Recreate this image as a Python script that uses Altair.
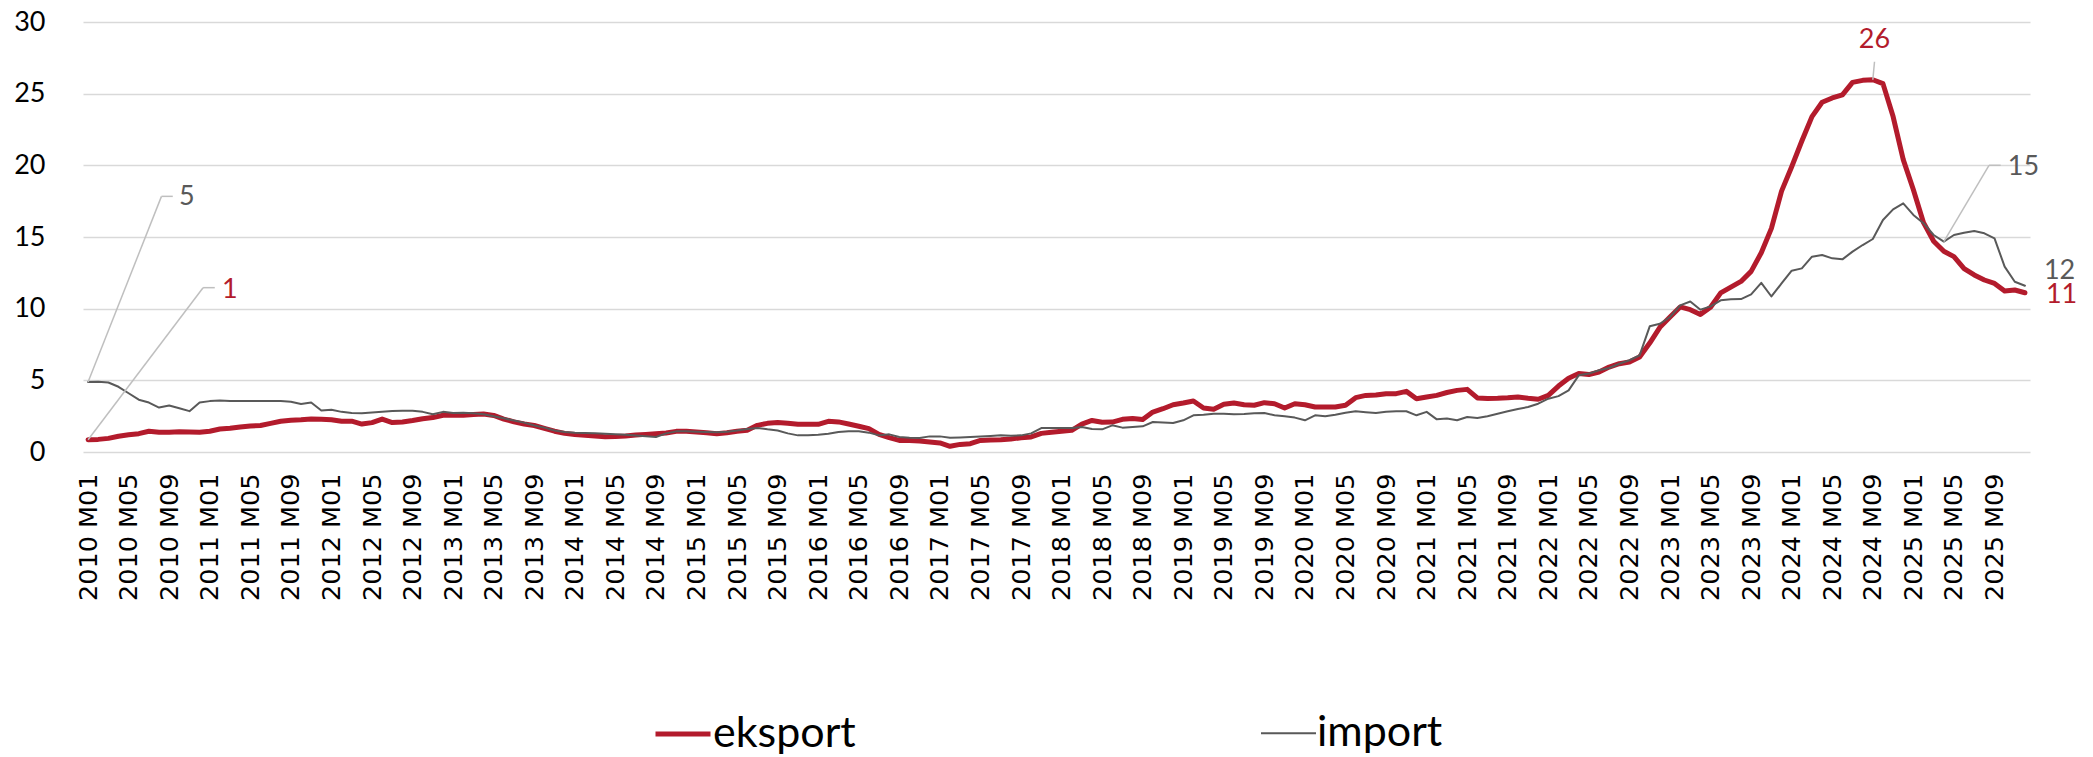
import altair as alt
import pandas as pd

months = [f"{2010 + i // 12} M{i % 12 + 1:02d}" for i in range(192)]

eksport = [
    0.86, 0.88, 0.95, 1.10, 1.20, 1.28, 1.45, 1.38, 1.38, 1.42, 1.40, 1.38,
    1.45, 1.60, 1.65, 1.75, 1.82, 1.85, 2.00, 2.15, 2.22, 2.25, 2.30, 2.28,
    2.25, 2.15, 2.15, 1.95, 2.05, 2.30, 2.05, 2.10, 2.20, 2.32, 2.40, 2.56,
    2.56, 2.56, 2.62, 2.65, 2.55, 2.30, 2.10, 1.95, 1.85, 1.65, 1.45, 1.30,
    1.22, 1.17, 1.12, 1.06, 1.08, 1.12, 1.18, 1.23, 1.28, 1.33, 1.44, 1.44,
    1.40, 1.35, 1.28, 1.35, 1.45, 1.52, 1.86, 2.00, 2.05, 2.00, 1.93, 1.93,
    1.93, 2.14, 2.10, 1.95, 1.80, 1.63, 1.23, 1.00, 0.81, 0.80, 0.77, 0.70,
    0.63, 0.40, 0.53, 0.58, 0.81, 0.84, 0.86, 0.90, 1.00, 1.05, 1.30, 1.38,
    1.45, 1.51, 1.95, 2.20, 2.07, 2.09, 2.28, 2.33, 2.26, 2.79, 3.02, 3.30,
    3.42, 3.56, 3.07, 2.98, 3.33, 3.42, 3.30, 3.26, 3.44, 3.37, 3.07, 3.37,
    3.30, 3.14, 3.14, 3.14, 3.26, 3.79, 3.95, 3.97, 4.07, 4.07, 4.23, 3.72,
    3.84, 3.95, 4.15, 4.30, 4.37, 3.77, 3.74, 3.75, 3.78, 3.84, 3.75, 3.68,
    3.95, 4.60, 5.15, 5.47, 5.40, 5.58, 5.93, 6.16, 6.28, 6.63, 7.60, 8.70,
    9.42, 10.12, 9.93, 9.60, 10.10, 11.10, 11.50, 11.90, 12.60, 13.90, 15.60, 18.20,
    19.90, 21.70, 23.40, 24.40, 24.70, 24.92, 25.79, 25.93, 25.97, 25.70, 23.40, 20.40,
    18.30, 16.00, 14.70, 14.00, 13.63, 12.80, 12.35, 12.00, 11.76, 11.23, 11.30, 11.11,
]

importv = [
    4.88, 4.90, 4.85, 4.55, 4.10, 3.65, 3.45, 3.10, 3.25, 3.05, 2.85, 3.45,
    3.55, 3.60, 3.55, 3.55, 3.55, 3.55, 3.55, 3.55, 3.50, 3.35, 3.45, 2.90,
    2.95, 2.80, 2.72, 2.70, 2.75, 2.80, 2.86, 2.88, 2.88, 2.80, 2.63, 2.80,
    2.72, 2.74, 2.70, 2.63, 2.50, 2.35, 2.20, 2.05, 1.85, 1.70, 1.50, 1.40,
    1.35, 1.33, 1.30, 1.27, 1.24, 1.20, 1.15, 1.10, 1.05, 1.30, 1.44, 1.44,
    1.42, 1.40, 1.38, 1.42, 1.50, 1.60, 1.68, 1.58, 1.50, 1.30, 1.16, 1.16,
    1.20, 1.28, 1.40, 1.45, 1.45, 1.35, 1.16, 1.23, 1.05, 1.00, 0.98, 1.09,
    1.09, 1.00, 1.02, 1.05, 1.08, 1.12, 1.16, 1.14, 1.16, 1.30, 1.67, 1.67,
    1.67, 1.68, 1.74, 1.60, 1.58, 1.86, 1.70, 1.75, 1.79, 2.09, 2.05, 2.02,
    2.21, 2.56, 2.60, 2.67, 2.66, 2.63, 2.65, 2.70, 2.72, 2.56, 2.50, 2.40,
    2.21, 2.56, 2.49, 2.60, 2.74, 2.84, 2.78, 2.72, 2.80, 2.84, 2.84, 2.56,
    2.80, 2.28, 2.33, 2.21, 2.44, 2.37, 2.50, 2.67, 2.84, 3.00, 3.14, 3.37,
    3.72, 3.90, 4.30, 5.35, 5.47, 5.70, 5.86, 6.16, 6.40, 6.74, 8.77, 8.95,
    9.42, 10.23, 10.50, 9.93, 10.16, 10.58, 10.65, 10.67, 11.00, 11.80, 10.85, 11.76,
    12.65, 12.81, 13.63, 13.74, 13.51, 13.44, 13.98, 14.44, 14.86, 16.19, 16.93, 17.35,
    16.54, 15.96, 15.14, 14.68, 15.14, 15.30, 15.42, 15.26, 14.91, 12.93, 11.88, 11.60,
]

series_names = ["eksport", "import"]
y_ticks = [0, 5, 10, 15, 20, 25, 30]
x_tick_labels = months[::4]

RED = "#B31B2C"
GRAY = "#595959"
LEADER = "#BFBFBF"

df = pd.DataFrame({
    "month": months + months,
    "value": eksport + importv,
    "series": ["eksport"] * len(months) + ["import"] * len(months),
})

xscale = alt.Scale(type="point", domain=months, padding=0.5)
xaxis = alt.Axis(values=x_tick_labels, labelAngle=270, title=None, domain=False,
                 ticks=False, grid=False, labelFont="DejaVu Sans", labelFontSize=25.5,
                 labelColor="black", labelPadding=21, labelOverlap=False)
yscale = alt.Scale(domain=[0, 30], nice=False, zero=True)
yaxis = alt.Axis(values=y_ticks, title=None, domain=False, ticks=False, tickSize=0,
                 grid=True, gridColor="#D9D9D9", gridWidth=1.6, labelFont="Lato",
                 labelFontSize=27, labelColor="black", labelPadding=38)

X = alt.X("month:O", scale=xscale, axis=xaxis)
Y = alt.Y("value:Q", scale=yscale, axis=yaxis)

legend_kw = dict(orient="none", legendX=570, legendY=682, direction="horizontal",
                 title=None, symbolType="stroke", symbolSize=3025,
                 labelFont="Lato", labelFontSize=43, labelColor="black",
                 labelOffset=0, columnPadding=401)

lines = alt.Chart(df).mark_line(strokeJoin="round", strokeCap="round").encode(
    x=X, y=Y,
    color=alt.Color("series:N", scale=alt.Scale(domain=series_names, range=[RED, GRAY]),
                    legend=alt.Legend(**legend_kw)),
    strokeWidth=alt.StrokeWidth("series:N", scale=alt.Scale(domain=series_names, range=[5, 2]),
                                legend=alt.Legend(**legend_kw)),
)


def point_df(values, idx):
    v = values[idx]
    return pd.DataFrame({"month": [months[idx]], "value": [v], "label": [str(int(round(v)))]})


def annotation(values, idx, color, dx, dy, align="left", leader=None):
    d = point_df(values, idx)
    layers = []
    if leader is not None:
        lx, ly, hx = leader
        layers.append(alt.Chart(d).mark_rule(color=LEADER, strokeWidth=1.5,
                                             x2Offset=lx, y2Offset=ly).encode(
            x=X, y=Y, x2=alt.X2("month"), y2=alt.Y2("value")))
        if hx is not None:
            layers.append(alt.Chart(d).mark_rule(color=LEADER, strokeWidth=1.5,
                                                 xOffset=lx, yOffset=ly,
                                                 x2Offset=hx, y2Offset=ly).encode(
                x=X, y=Y, x2=alt.X2("month"), y2=alt.Y2("value")))
    layers.append(alt.Chart(d).mark_text(font="Lato", fontSize=27, color=color, align=align,
                                         baseline="middle", dx=dx, dy=dy).encode(
        x=X, y=Y, text="label:N"))
    return layers


ann = []
ann += annotation(importv, 0, GRAY, 91, -185, leader=(73.4, -185.7, 84.7))
ann += annotation(eksport, 0, RED, 134, -150, leader=(115, -152, 126.7))
ann += annotation(eksport, 176, RED, 1.7, -40, align="center", leader=(1.7, -18, None))
ann += annotation(importv, 183, GRAY, 64, -75, leader=(45.2, -76.3, 56.9))
ann += annotation(importv, 191, GRAY, 19, -14.5)
ann += annotation(eksport, 191, RED, 21, 2)

chart = alt.layer(lines, *ann).properties(
    width=1947, height=430,
    autosize=alt.AutoSizeParams(type="none"),
    padding={"left": 75, "top": 14, "right": 55, "bottom": 304},
    background="white",
).configure_view(stroke=None)

chart.save("out.html", embed_options={"renderer": "svg", "actions": False})
